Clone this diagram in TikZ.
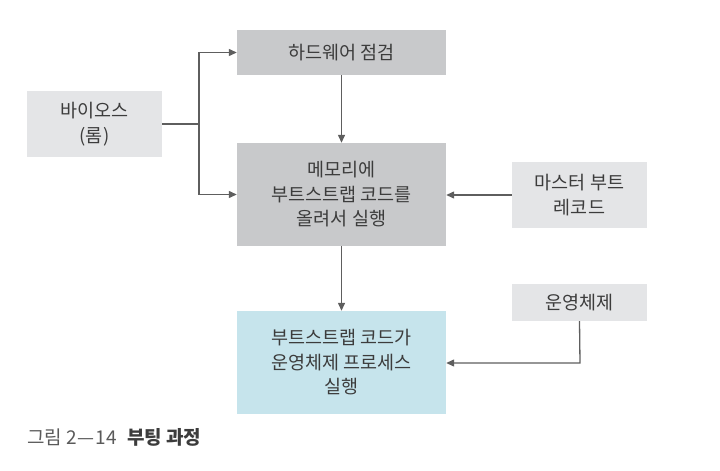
\documentclass[tikz,border=0pt]{standalone}
\usepackage{fontspec}
\setmainfont{Noto Sans CJK KR}
\usetikzlibrary{arrows.meta}
\definecolor{darkbox}{HTML}{C8C9CB}
\definecolor{lightbox}{HTML}{E4E5E7}
\definecolor{bluebox}{HTML}{C6E4EC}
\definecolor{txt}{HTML}{3C3C3C}
\definecolor{arr}{HTML}{5E5E5E}
\definecolor{captxt}{HTML}{5A5A5A}
\tikzset{
  box/.style={rectangle, inner sep=0pt, align=center, text=txt,
    font=\fontsize{18.5}{24.5}\selectfont},
  dbox/.style={box, fill=darkbox, minimum width=209pt},
  lbox/.style={box, fill=lightbox, minimum width=135pt},
  bbox/.style={box, fill=bluebox, minimum width=209pt},
  conn/.style={draw=arr, line width=1.3pt, -{Triangle[length=8pt,width=7pt]}},
}
\begin{document}
\begin{tikzpicture}[x=1pt,y=-1pt]
\useasboundingbox (0,0) rectangle (720,471);
\node[dbox, minimum height=45pt] (hw) at (341.5,52.5) {하드웨어 점검};
\node[lbox, minimum height=66pt] (bios) at (94.5,124) {바이오스\\(롬)};
\node[dbox, minimum height=103pt] (mem) at (341.5,194.5) {메모리에\\부트스트랩 코드를\\올려서 실행};
\node[lbox, minimum height=66pt] (mbr) at (579.5,195) {마스터 부트\\레코드};
\node[bbox, minimum height=103pt] (boot) at (341.5,362.5) {부트스트랩 코드가\\운영체제 프로세스\\실행};
\node[lbox, minimum height=37pt] (os) at (579.5,302.5) {운영체제};
\coordinate (j) at (199,124);
\coordinate (k) at (580,363);
\draw[draw=arr, line width=1.3pt] (bios.east) -- (j);
\draw[conn] (j) |- (hw.west);
\draw[conn] (j) |- (mem.west);
\draw[conn] (hw.south) -- (mem.north);
\draw[conn] (mem.south) -- (boot.north);
\draw[conn] (mbr.west) -- (mem.east |- mbr.west);
\draw[conn] (os.south) -- (k) -- (boot.east |- k);
\node[anchor=west, inner sep=0pt, font=\fontsize{19}{22}\selectfont] (cap) at (27,437)
  {\textcolor{captxt}{그림 2\kern1pt—\kern1pt14}\hspace{10pt}\textcolor{txt}{\bfseries 부팅 과정}};
\end{tikzpicture}
\end{document}
